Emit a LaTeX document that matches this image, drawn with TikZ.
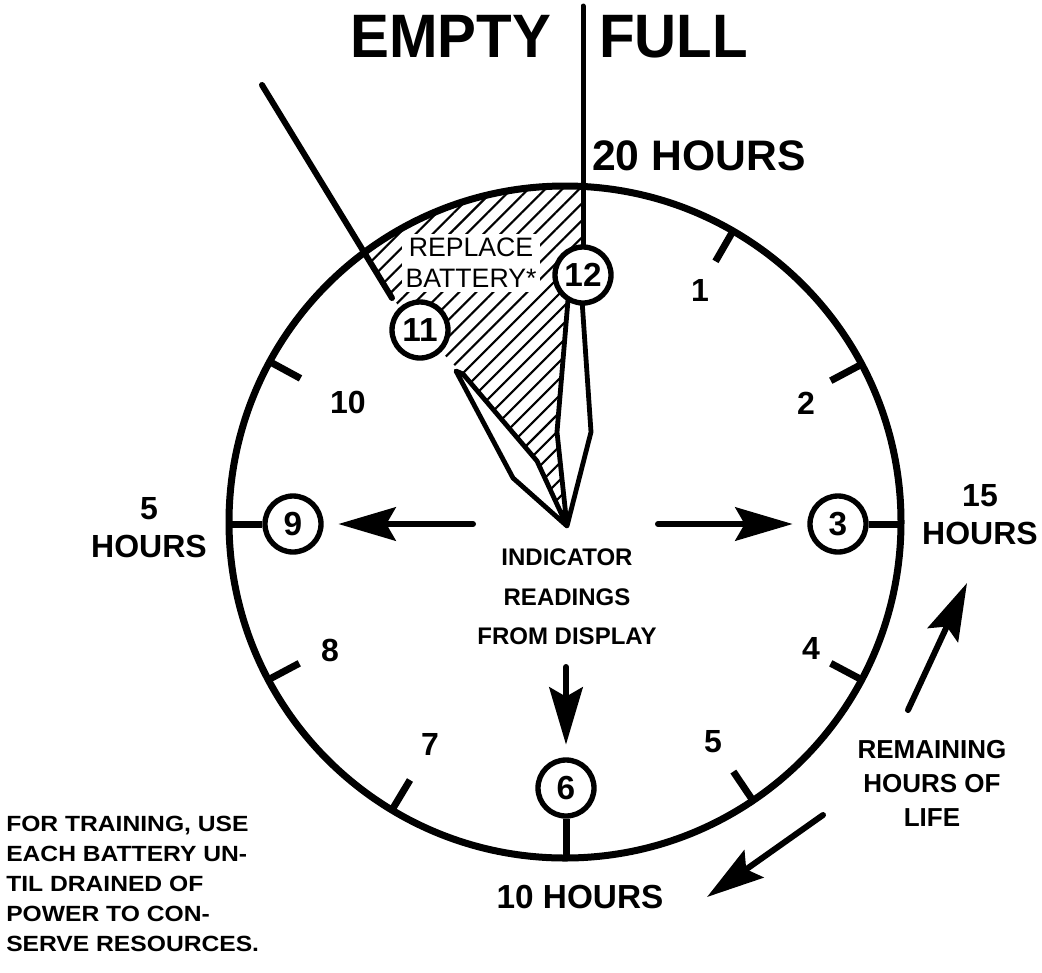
\documentclass[tikz,border=0pt]{standalone}
\usepackage{fontspec}
\setmainfont{Liberation Sans}
\newfontfamily\titlefont[FakeStretch=0.95]{Liberation Sans}
\newfontfamily\widefont[FakeStretch=1.12]{Liberation Sans}
\usetikzlibrary{arrows.meta,patterns.meta,calc}
\begin{document}
\begin{tikzpicture}[x=0.75pt,y=-0.75pt,
  rim/.style={line width=5.25pt},
  tickline/.style={line width=5.25pt},
  numc/.style={circle,draw,line width=4pt,minimum size=42pt,inner sep=0pt,fill=white,font=\bfseries\fontsize{25}{25}\selectfont},
  hnum/.style={font=\bfseries\fontsize{24}{24}\selectfont},
  hand/.style={draw,line width=3.6pt,fill=white,line join=round},
  pointer/.style={line width=4.5pt,line cap=round},
  arr/.style={line width=4.5pt,line cap=round,-{Stealth[length=43pt,width=25pt,inset=7pt]}},
  lbl/.style={font=\bfseries\fontsize{24}{28.5}\selectfont,align=center},
  hatch/.style={pattern={Lines[angle=45,distance=9pt,line width=1.6pt]}}]
\useasboundingbox (0,0) rectangle (1042,972);

\coordinate (C) at (565,522);
% hand points
\coordinate (O) at (567,526);
\coordinate (h12a) at (568,300);
\coordinate (h12b) at (557,432);
\coordinate (h12c) at (591,432);
\coordinate (h12d) at (582,300);
\coordinate (h11a) at (456,371);
\coordinate (h11b) at (513,478);
\coordinate (h11c) at (537,461);
\coordinate (h11d) at (463,374);

% hatched zone
\begin{scope}
  \clip (C) circle[radius=336];
  \fill[hatch] (327,191) -- (583,140) -- (583,290) -- (h12a) -- (h12b) -- (O) -- (h11c) -- (h11d) -- (420,330) -- (392,298) -- cycle;
\end{scope}

% dial
\draw[rim] (C) circle[radius=336];
\foreach \a in {60,28,-28,-56,239,208,151.5}
  \draw[tickline] ($(C)+(-\a:338)$) -- ($(C)+(-\a:301)$);

% hands
\draw[hand] (h12a) -- (h12b) -- (O) -- (h12c) -- (h12d) -- cycle;
\draw[hand] (h11a) -- (h11b) -- (O) -- (h11c) -- (h11d) -- cycle;

\node[font=\fontsize{20}{23}\selectfont,fill=white,align=center,inner sep=3pt] (rb) at (471,263) {REPLACE\\BATTERY*};

% numbered circles
\node[numc] (c12) at (583,275) {12};
\node[numc] (c11) at (420,330) {11};
\node[numc] (c9) at (293,524) {9};
\node[numc] (c3) at (838,524) {3};
\node[numc] (c6) at (566,788) {6};

\coordinate (r3) at (903,524);
\coordinate (r9) at (227,524);
\coordinate (r6) at (566,859);
\draw[tickline] (c3) -- (r3);
\draw[tickline] (c9) -- (r9);
\draw[tickline] (c6) -- (r6);

% pointer lines
\coordinate (top12) at (583,6);
\draw[line width=3.75pt,line cap=round] (top12) -- (c12);
\coordinate (l11a) at (262,85);
\coordinate (l11b) at (392,298);
\draw[pointer] (l11a) -- (l11b);

% hour numbers
\node[hnum] (n1) at (700,290) {1};
\node[hnum] (n2) at (806,403) {2};
\node[hnum] (n4) at (811,648) {4};
\node[hnum] (n5) at (713,742) {5};
\node[hnum] (n7) at (430,744) {7};
\node[hnum] (n8) at (330,650) {8};
\node[hnum] (n10) at (348,402) {10};

% central text and arrows
\node[font=\bfseries\fontsize{18}{29.5}\selectfont,align=center] (ind) at (567,597) {INDICATOR\\READINGS\\FROM DISPLAY};
\coordinate (aL) at (473,524);
\coordinate (aR) at (658,524);
\coordinate (aD) at (566,667);
\draw[arr,shorten >=11pt] (aL) -- (c9);
\draw[arr,shorten >=11pt] (aR) -- (c3);
\draw[arr,shorten >=9.5pt] (aD) -- (c6);

% titles
\node[anchor=base west,inner sep=0pt,font=\titlefont\bfseries\fontsize{46}{46}\selectfont] (empty) at (350,57) {EMPTY};
\node[anchor=base west,inner sep=0pt,font=\titlefont\bfseries\fontsize{46}{46}\selectfont] (full) at (599,57) {FULL};
\node[anchor=base west,inner sep=0pt,font=\bfseries\fontsize{32}{32}\selectfont] (h20) at (592,170) {20 HOURS};

\node[lbl] (h15) at (980,515) {15\\HOURS};
\node[lbl] (h5) at (149,528) {5\\HOURS};
\node[font=\bfseries\fontsize{25}{25}\selectfont] (h10) at (580,897) {10 HOURS};

\node[font=\bfseries\fontsize{19.5}{25.5}\selectfont,align=center] (rem) at (932,783) {REMAINING\\HOURS OF\\LIFE};
\coordinate (u1) at (908,710);
\coordinate (u2) at (967,583);
\coordinate (d1) at (823,815);
\coordinate (d2) at (707,897);
\draw[arr] (u1) -- (u2);
\draw[arr] (d1) -- (d2);

\node[anchor=north west,inner sep=0pt,align=left,font=\widefont\bfseries\fontsize{16.5}{22.5}\selectfont] (note) at (6,816) {FOR TRAINING, USE\\EACH BATTERY UN-\\TIL DRAINED OF\\POWER TO CON-\\SERVE RESOURCES.};
\end{tikzpicture}
\end{document}
